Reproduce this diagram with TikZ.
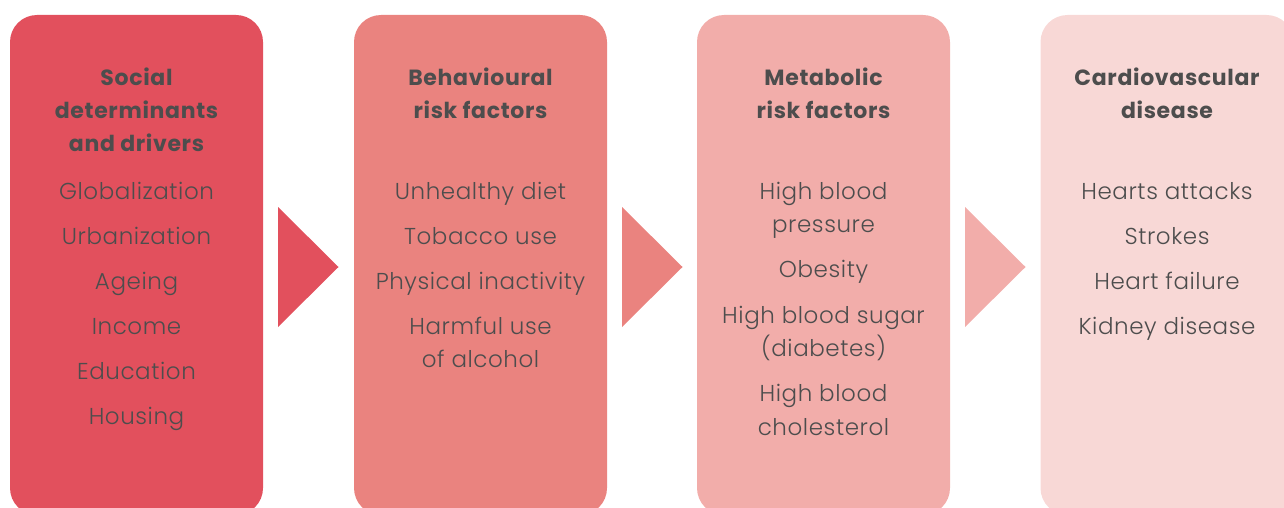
\documentclass[tikz,border=0pt]{standalone}
\usepackage{fontspec}
\setmainfont{Poppins}
\newfontfamily\itemf[LetterSpace=2.5]{Poppins Light}
\newfontfamily\titlef[LetterSpace=3]{Poppins Bold}
\definecolor{cA}{HTML}{E2505D}
\definecolor{cB}{HTML}{EA837F}
\definecolor{cC}{HTML}{F2ADAA}
\definecolor{cD}{HTML}{F8D8D6}
\definecolor{txt}{HTML}{4D4D4D}
\tikzset{
  panel/.style={rounded corners=27pt, minimum width=253pt, minimum height=500pt, inner sep=0pt, draw=none},
  ttl/.style={text=txt, font=\titlef\fontsize{22}{33}\selectfont, anchor=base, inner sep=0pt},
  itm/.style={text=txt, font=\itemf\fontsize{23}{33}\selectfont, anchor=base, inner sep=0pt},
}
\begin{document}
\begin{tikzpicture}[x=1pt,y=-1pt]
\useasboundingbox (0,0) rectangle (1284,508);
\clip (0,0) rectangle (1284,508);
% panels
\node[panel, fill=cA] (p1) at (136.5,265) {};
\node[panel, fill=cB] (p2) at (480.5,265) {};
\node[panel, fill=cC] (p3) at (823.5,265) {};
\node[panel, fill=cD] (p4) at (1167,265) {};
% arrows
\coordinate (a1) at (278,207); \coordinate (b1) at (338.5,267); \coordinate (c1) at (278,327);
\coordinate (a2) at (622,207); \coordinate (b2) at (682.5,267); \coordinate (c2) at (622,327);
\coordinate (a3) at (965,207); \coordinate (b3) at (1025.5,267); \coordinate (c3) at (965,327);
\fill[cA] (a1) -- (b1) -- (c1) -- cycle;
\fill[cB] (a2) -- (b2) -- (c2) -- cycle;
\fill[cC] (a3) -- (b3) -- (c3) -- cycle;
% panel 1
\node[ttl] (t1a) at (136.5,85.5) {Social};
\node[ttl] (t1b) at (136.5,118.5) {determinants};
\node[ttl] (t1c) at (136.5,151.5) {and drivers};
\node[itm] (i11) at (136.5,199.5) {Globalization};
\node[itm] (i12) at (136.5,244.5) {Urbanization};
\node[itm] (i13) at (136.5,289.5) {Ageing};
\node[itm] (i14) at (136.5,334.5) {Income};
\node[itm] (i15) at (136.5,379.5) {Education};
\node[itm] (i16) at (136.5,424.5) {Housing};
% panel 2
\node[ttl] (t2a) at (480.5,85.5) {Behavioural};
\node[ttl] (t2b) at (480.5,118.5) {risk factors};
\node[itm] (i21) at (480.5,199.5) {Unhealthy diet};
\node[itm] (i22) at (480.5,244.5) {Tobacco use};
\node[itm] (i23) at (480.5,289.5) {Physical inactivity};
\node[itm] (i24a) at (480.5,334.5) {Harmful use};
\node[itm] (i24b) at (480.5,367.5) {of alcohol};
% panel 3
\node[ttl] (t3a) at (823.5,85.5) {Metabolic};
\node[ttl] (t3b) at (823.5,118.5) {risk factors};
\node[itm] (i31a) at (823.5,199.5) {High blood};
\node[itm] (i31b) at (823.5,232.5) {pressure};
\node[itm] (i32) at (823.5,277.5) {Obesity};
\node[itm] (i33a) at (823.5,323.5) {High blood sugar};
\node[itm] (i33b) at (823.5,356.5) {(diabetes)};
\node[itm] (i34a) at (823.5,401.5) {High blood};
\node[itm] (i34b) at (823.5,435) {cholesterol};
% panel 4
\node[ttl] (t4a) at (1167,85.5) {Cardiovascular};
\node[ttl] (t4b) at (1167,118.5) {disease};
\node[itm] (i41) at (1167,199.5) {Hearts attacks};
\node[itm] (i42) at (1167,244.5) {Strokes};
\node[itm] (i43) at (1167,289.5) {Heart failure};
\node[itm] (i44) at (1167,334.5) {Kidney disease};
\end{tikzpicture}
\end{document}
